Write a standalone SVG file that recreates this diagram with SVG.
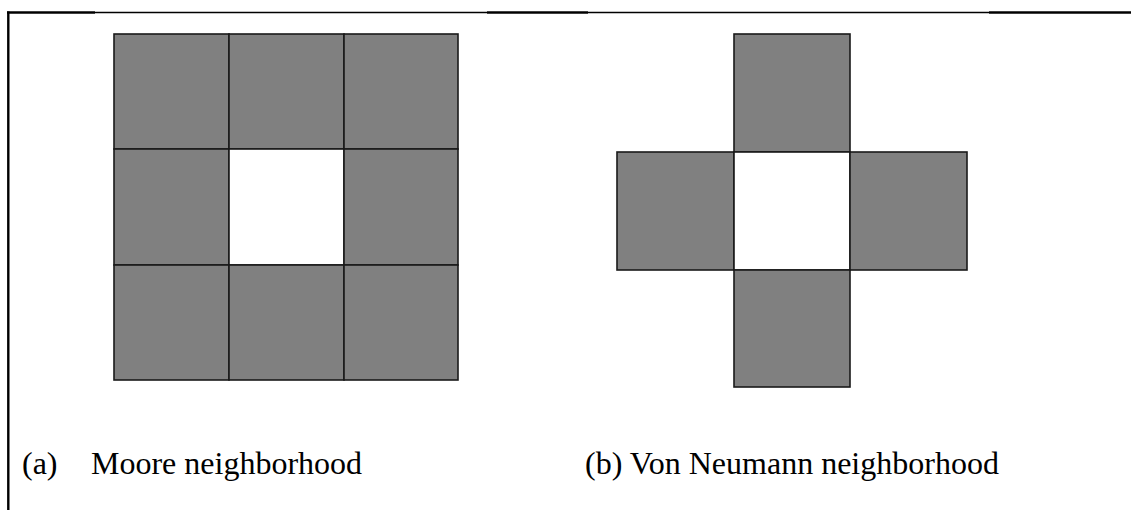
<svg xmlns="http://www.w3.org/2000/svg" width="1131" height="510" viewBox="0 0 1131 510">
<style>
.cell{fill:#808080;stroke:#1a1a1a;stroke-width:1.6}
.blank{fill:#ffffff;stroke:#1a1a1a;stroke-width:1.6}
.lbl{font-family:"Liberation Serif","Times New Roman",serif;font-size:32px;fill:#000}
.frame{stroke:#000;fill:none}
</style>
<rect width="1131" height="510" fill="#ffffff"/>
<g id="frame">
<line class="frame" x1="7" y1="12.5" x2="95" y2="12.5" stroke-width="2.4"/>
<line class="frame" x1="95" y1="12.5" x2="487" y2="12.5" stroke-width="1.4"/>
<line class="frame" x1="487" y1="12.5" x2="588" y2="12.5" stroke-width="2.4"/>
<line class="frame" x1="588" y1="12.5" x2="989" y2="12.5" stroke-width="1.4"/>
<line class="frame" x1="989" y1="12.5" x2="1131" y2="12.5" stroke-width="2.4"/>
<line class="frame" x1="8.3" y1="11.5" x2="8.3" y2="510" stroke-width="2.4"/>
</g>
<g id="moore">
<rect class="cell" x="114" y="34" width="115" height="115"/>
<rect class="cell" x="229" y="34" width="115" height="115"/>
<rect class="cell" x="344" y="34" width="114" height="115"/>
<rect class="cell" x="114" y="149" width="115" height="116"/>
<rect class="blank" x="229" y="149" width="115" height="116"/>
<rect class="cell" x="344" y="149" width="114" height="116"/>
<rect class="cell" x="114" y="265" width="115" height="115"/>
<rect class="cell" x="229" y="265" width="115" height="115"/>
<rect class="cell" x="344" y="265" width="114" height="115"/>
</g>
<g id="vonneumann">
<rect class="cell" x="734" y="34" width="116" height="118"/>
<rect class="cell" x="617" y="152" width="117" height="118"/>
<rect class="blank" x="734" y="152" width="116" height="118"/>
<rect class="cell" x="850" y="152" width="117" height="118"/>
<rect class="cell" x="734" y="270" width="116" height="117"/>
</g>
<g id="labels">
<text class="lbl" x="22" y="474">(a)</text>
<text class="lbl" x="91" y="474">Moore neighborhood</text>
<text class="lbl" x="585" y="474">(b) Von Neumann neighborhood</text>
</g>
</svg>
